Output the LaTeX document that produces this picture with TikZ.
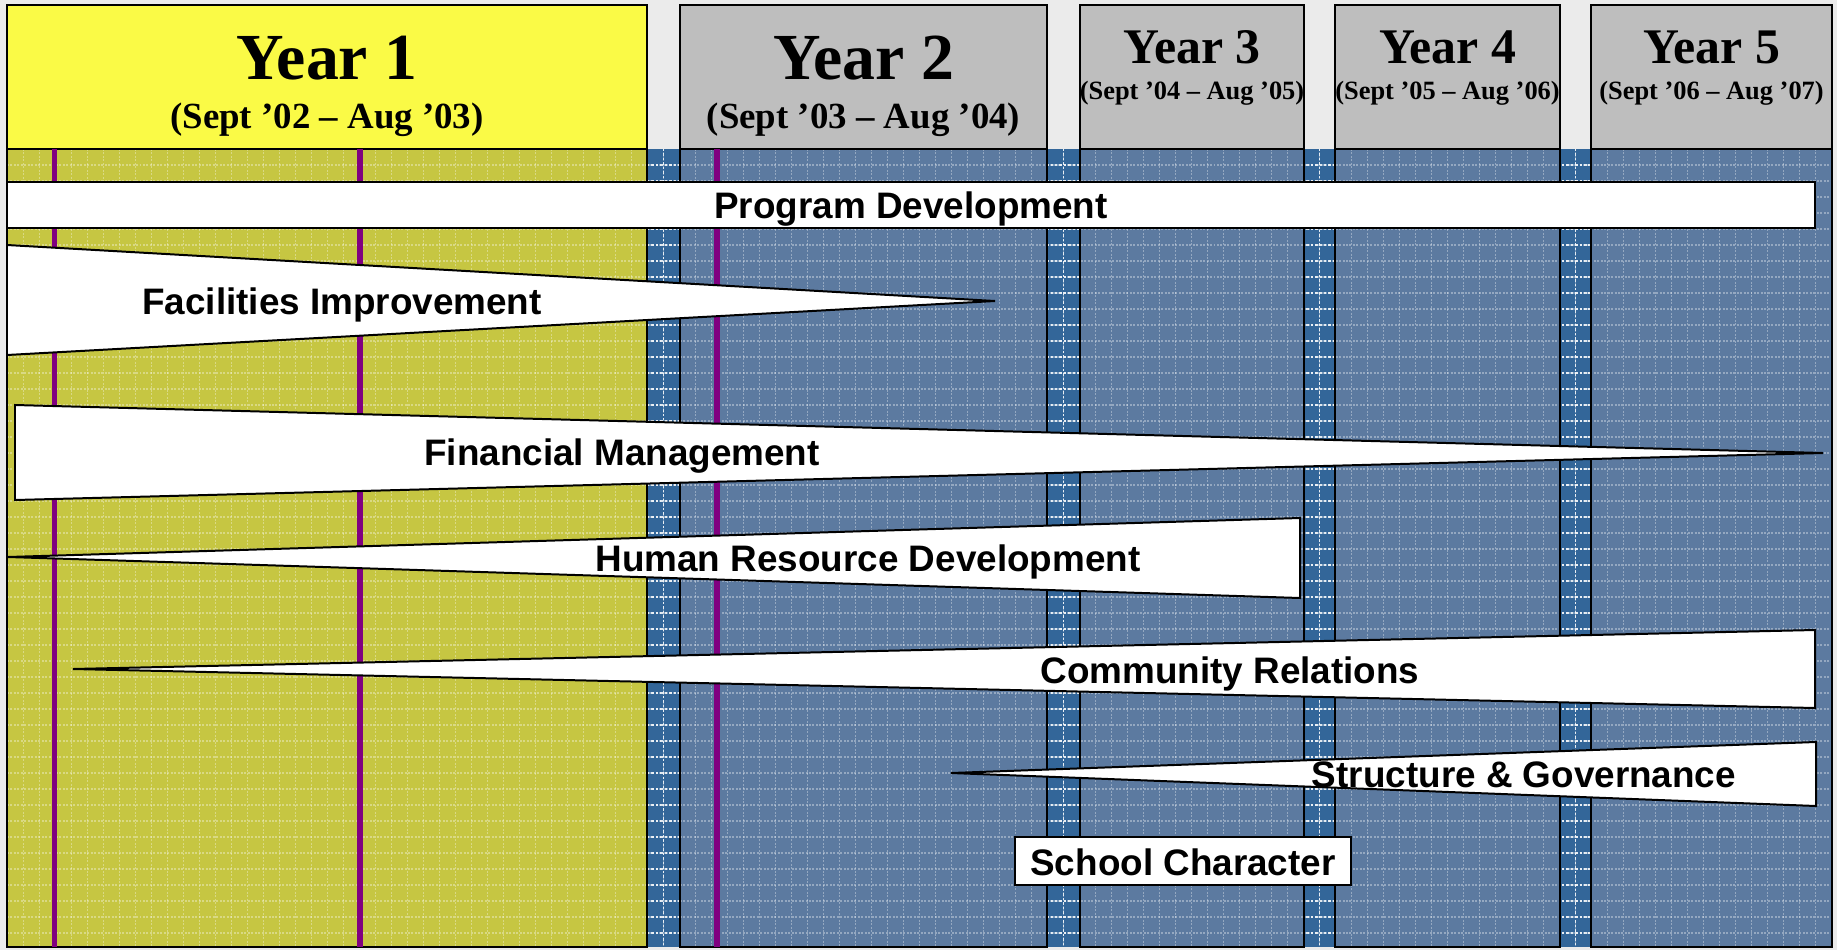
\documentclass[tikz,border=0pt]{standalone}
\usepackage{fontspec}
\setmainfont{Liberation Serif}
\setsansfont{Liberation Sans}

\definecolor{bggray}{RGB}{235,235,235}
\definecolor{hdryellow}{RGB}{250,250,70}
\definecolor{hdrgray}{RGB}{190,190,190}
\definecolor{colyellow}{RGB}{198,198,66}
\definecolor{colblue}{RGB}{92,122,160}
\definecolor{gapblue}{RGB}{51,102,153}
\definecolor{markpurple}{RGB}{128,0,128}

\tikzset{
  hdr/.style={draw=black, line width=1.3},
  colframe/.style={draw=black, line width=1.3},
  gridline/.style={white, opacity=0.35, line width=1.2, dash pattern=on 2pt off 1.5pt},
  gapline/.style={white, opacity=0.85, line width=1.4, dash pattern=on 2.5pt off 2pt},
  marker/.style={markpurple, line width=5.5},
  bar/.style={draw=black, fill=white, line width=2},
  bartext/.style={font=\sffamily\bfseries\fontsize{37}{40}\selectfont, anchor=base, inner sep=0pt},
  bigyear/.style={font=\bfseries\fontsize{66}{70}\selectfont, anchor=base, inner sep=0pt},
  bigdate/.style={font=\bfseries\fontsize{37}{40}\selectfont, anchor=base, inner sep=0pt},
  smallyear/.style={font=\bfseries\fontsize{50}{54}\selectfont, anchor=base, inner sep=0pt},
  smalldate/.style={font=\bfseries\fontsize{26.5}{28}\selectfont, anchor=base, inner sep=0pt}
}

\begin{document}
\begin{tikzpicture}[x=1bp,y=-1bp]
        \fill[bggray] (0,0) rectangle (1837,950);
        \useasboundingbox (0,0) rectangle (1837,950);

        % year headers
        \coordinate (H1a) at (7,5);     \coordinate (H1b) at (647,149);
        \coordinate (H2a) at (680,5);   \coordinate (H2b) at (1047,149);
        \coordinate (H3a) at (1080,5);  \coordinate (H3b) at (1304,149);
        \coordinate (H4a) at (1335,5);  \coordinate (H4b) at (1560,149);
        \coordinate (H5a) at (1591,5);  \coordinate (H5b) at (1832,149);

        \draw[hdr,fill=hdryellow] (H1a) rectangle (H1b);
        \draw[hdr,fill=hdrgray] (H2a) rectangle (H2b);
        \draw[hdr,fill=hdrgray] (H3a) rectangle (H3b);
        \draw[hdr,fill=hdrgray] (H4a) rectangle (H4b);
        \draw[hdr,fill=hdrgray] (H5a) rectangle (H5b);

        \node[bigyear] (year1) at (327,79) {Year 1};
        \node[bigdate] (date1) at (327,128) {(Sept ’02 – Aug ’03)};
        \node[bigyear] (year2) at (863.5,79) {Year 2};
        \node[bigdate] (date2) at (863.5,128) {(Sept ’03 – Aug ’04)};
        \node[smallyear] (year3) at (1192,63) {Year 3};
        \node[smalldate] (date3) at (1192,99) {(Sept ’04 – Aug ’05)};
        \node[smallyear] (year4) at (1447.5,63) {Year 4};
        \node[smalldate] (date4) at (1447.5,99) {(Sept ’05 – Aug ’06)};
        \node[smallyear] (year5) at (1711.5,63) {Year 5};
        \node[smalldate] (date5) at (1711.5,99) {(Sept ’06 – Aug ’07)};

        % columns and the stripes between them
        \coordinate (C1a) at (7,149);     \coordinate (C1b) at (647,947);
        \coordinate (G1a) at (647,149);   \coordinate (G1b) at (680,947);
        \coordinate (C2a) at (680,149);   \coordinate (C2b) at (1047,947);
        \coordinate (G2a) at (1047,149);  \coordinate (G2b) at (1080,947);
        \coordinate (C3a) at (1080,149);  \coordinate (C3b) at (1304,947);
        \coordinate (G3a) at (1304,149);  \coordinate (G3b) at (1335,947);
        \coordinate (C4a) at (1335,149);  \coordinate (C4b) at (1560,947);
        \coordinate (G4a) at (1560,149);  \coordinate (G4b) at (1591,947);
        \coordinate (C5a) at (1591,149);  \coordinate (C5b) at (1832,947);

        \fill[colyellow] (C1a) rectangle (C1b);
        \fill[colblue] (C2a) rectangle (C2b);
        \fill[colblue] (C3a) rectangle (C3b);
        \fill[colblue] (C4a) rectangle (C4b);
        \fill[colblue] (C5a) rectangle (C5b);
        \fill[gapblue] (G1a) rectangle (G1b);
        \fill[gapblue] (G2a) rectangle (G2b);
        \fill[gapblue] (G3a) rectangle (G3b);
        \fill[gapblue] (G4a) rectangle (G4b);

        % texture grid
        \foreach \gx in {23.5,39.5,...,1831.5}
          \draw[gridline] (\gx,149) -- (\gx,947);
        \foreach \gy in {165,181,...,933}
          \draw[gridline] (7,\gy) -- (1832,\gy);
        \begin{scope}
          \clip (G1a) rectangle (G1b) (G2a) rectangle (G2b)
                (G3a) rectangle (G3b) (G4a) rectangle (G4b);
          \foreach \gx in {663.5,1063.5,1319.5,1575.5}
            \draw[gapline] (\gx,149) -- (\gx,947);
          \foreach \gy in {165,181,...,933}
            \draw[gapline] (647,\gy) -- (1591,\gy);
        \end{scope}

        \draw[colframe] (C1a) rectangle (C1b);
        \draw[colframe] (C2a) rectangle (C2b);
        \draw[colframe] (C3a) rectangle (C3b);
        \draw[colframe] (C4a) rectangle (C4b);
        \draw[colframe] (C5a) rectangle (C5b);

        % purple markers
        \coordinate (M1a) at (54.5,149);  \coordinate (M1b) at (54.5,947);
        \coordinate (M2a) at (360,149);   \coordinate (M2b) at (360,947);
        \coordinate (M3a) at (717,149);   \coordinate (M3b) at (717,947);

        \draw[marker] (M1a) -- (M1b);
        \draw[marker] (M2a) -- (M2b);
        \draw[marker] (M3a) -- (M3b);

        % activity bars
        \coordinate (A) at (7,182);
        \coordinate (B) at (1815,228);

        \coordinate (C) at (7,245);
        \coordinate (D) at (995,301);
        \coordinate (E) at (7,355);

        \coordinate (F) at (15,405);
        \coordinate (G) at (1823,453);
        \coordinate (H) at (15,500);

        \coordinate (I) at (8,557);
        \coordinate (J) at (1300,518);
        \coordinate (K) at (1300,598);

        \coordinate (L) at (73,669);
        \coordinate (M) at (1815,630);
        \coordinate (N) at (1815,708);

        \coordinate (O) at (951,773);
        \coordinate (P) at (1816,742);
        \coordinate (Q) at (1816,806);

        \coordinate (R) at (1015,837);
        \coordinate (S) at (1351,885);

        \draw[bar] (A) rectangle (B);
        \draw[bar] (C) -- (D) -- (E) -- cycle;
        \draw[bar] (F) -- (G) -- (H) -- cycle;
        \draw[bar] (I) -- (J) -- (K) -- cycle;
        \draw[bar] (L) -- (M) -- (N) -- cycle;
        \draw[bar] (O) -- (P) -- (Q) -- cycle;
        \draw[bar] (R) rectangle (S);

        \node[bartext] (progdev) at (911,218) {Program Development};
        \node[bartext] (facil) at (342,314) {Facilities Improvement};
        \node[bartext] (finance) at (622,465) {Financial Management};
        \node[bartext] (humres) at (868,571) {Human Resource Development};
        \node[bartext] (commrel) at (1230,683) {Community Relations};
        \node[bartext] (structgov) at (1524,787) {Structure \& Governance};
        \node[bartext] (schoolchar) at (1183,875) {School Character};
\end{tikzpicture}
\end{document}
